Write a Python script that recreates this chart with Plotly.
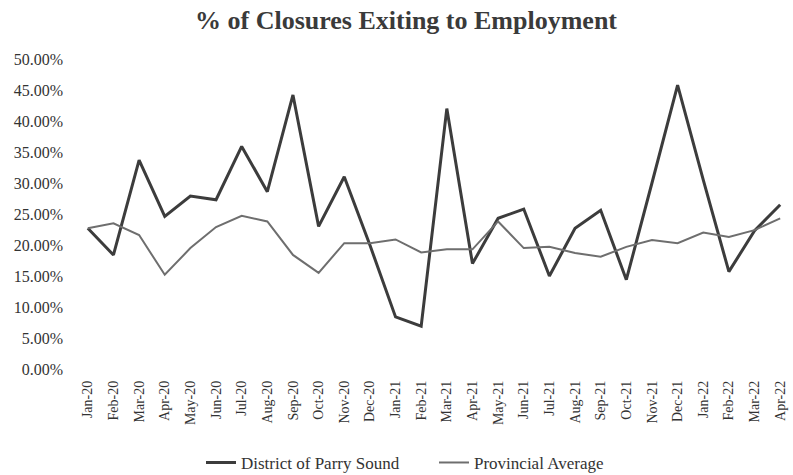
import plotly.graph_objects as go

months = ["Jan-20", "Feb-20", "Mar-20", "Apr-20", "May-20", "Jun-20", "Jul-20",
          "Aug-20", "Sep-20", "Oct-20", "Nov-20", "Dec-20", "Jan-21", "Feb-21",
          "Mar-21", "Apr-21", "May-21", "Jun-21", "Jul-21", "Aug-21", "Sep-21",
          "Oct-21", "Nov-21", "Dec-21", "Jan-22", "Feb-22", "Mar-22", "Apr-22"]

parry_sound = [22.7, 18.4, 33.7, 24.6, 27.9, 27.3, 35.9, 28.6, 44.2, 23.0,
               31.0, 20.0, 8.4, 6.9, 42.0, 17.0, 24.3, 25.8, 15.0, 22.7,
               25.6, 14.4, 30.0, 45.8, 30.5, 15.7, 22.3, 26.5]

provincial = [22.7, 23.5, 21.6, 15.2, 19.5, 22.9, 24.7, 23.8, 18.4, 15.5,
              20.3, 20.3, 20.9, 18.8, 19.3, 19.3, 23.8, 19.5, 19.7, 18.7,
              18.1, 19.7, 20.8, 20.3, 22.0, 21.3, 22.4, 24.3]

y_ticks = [0, 5, 10, 15, 20, 25, 30, 35, 40, 45, 50]
y_tick_text = [f"{v:.2f}%" for v in y_ticks]

serif = "Liberation Serif, Times New Roman, serif"

fig = go.Figure()
fig.add_trace(go.Scatter(
    x=months, y=parry_sound, mode="lines", name="District of Parry Sound",
    line=dict(color="#3c3c3c", width=3),
))
fig.add_trace(go.Scatter(
    x=months, y=provincial, mode="lines", name="Provincial Average",
    line=dict(color="#6e6e6e", width=2),
))

fig.update_layout(
    width=793, height=475, autosize=False,
    margin=dict(l=75, r=0, t=59, b=106, autoexpand=False),
    paper_bgcolor="white", plot_bgcolor="white",
    font=dict(family=serif, color="#333333", size=13),
    title=dict(
        text="<b>% of Closures Exiting to Employment</b>",
        x=0.512, xanchor="center", xref="container",
        y=0.958, yanchor="middle", yref="container",
        font=dict(family=serif, size=26, color="#3a3a3a"),
    ),
    xaxis=dict(
        type="category", tickangle=-90, showgrid=False, showline=False,
        zeroline=False, ticks="", tickfont=dict(size=14),
        categoryorder="array", categoryarray=months,
        range=[-0.5, len(months) - 0.5], ticklabelstandoff=8,
    ),
    yaxis=dict(
        range=[0, 50], tickmode="array", tickvals=y_ticks, ticktext=y_tick_text,
        showgrid=False, showline=False, zeroline=False, ticks="",
        tickfont=dict(size=16), ticklabelstandoff=11,
    ),
    legend=dict(
        orientation="h", x=0.50, xanchor="center",
        y=-0.303, yanchor="middle", font=dict(size=17),
        entrywidth=188, entrywidthmode="pixels",
    ),
    showlegend=True,
)

fig.write_html("out.html")
